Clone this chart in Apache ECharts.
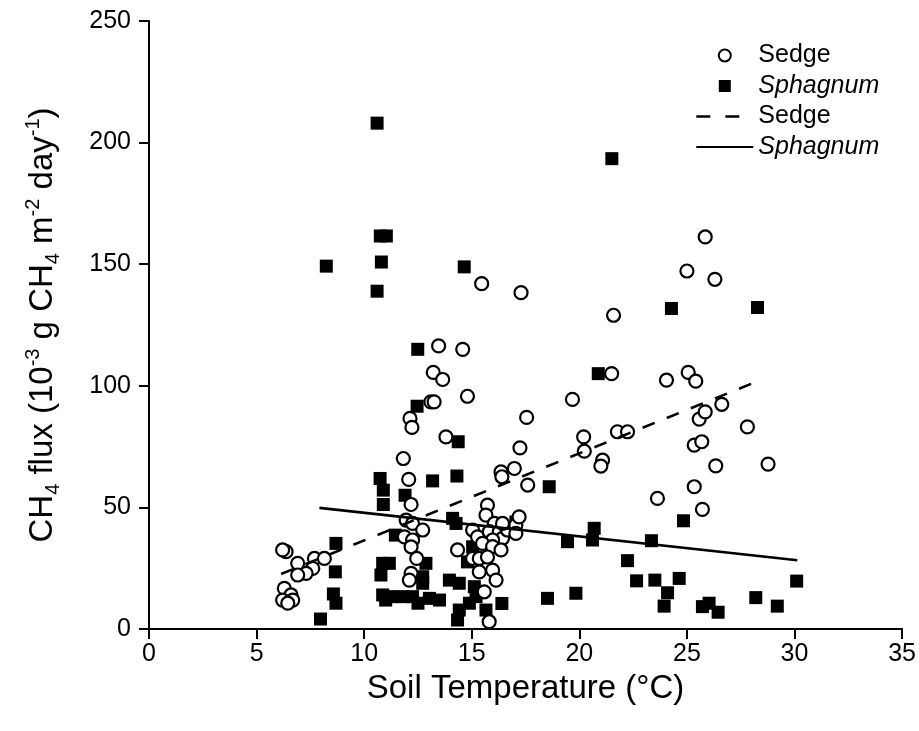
<!DOCTYPE html>
<html>
<head>
<meta charset="utf-8">
<script src="https://cdn.jsdelivr.net/npm/echarts@6/dist/echarts.min.js"></script>
<style>
html,body{margin:0;padding:0;background:#fff;}
#chart{width:919px;height:731px;}
</style>
</head>
<body>
<div id="chart"></div>
<script>
// Sedge observations: [soil temperature (°C), CH4 flux]
const sedgePoints = [
  [25.85,161.2],[25.0,147.2],[26.3,143.8],[15.46,142],[17.29,138.3],[21.59,129],
  [13.46,116.4],[14.58,115],[13.21,105.5],[13.65,102.6],[21.5,105],[24.05,102.3],
  [25.06,105.5],[25.41,101.9],[14.8,95.7],[13.1,93.4],[13.25,93.4],[19.68,94.4],
  [26.62,92.4],[25.57,86.3],[25.85,89.3],[12.13,86.6],[12.22,82.9],[17.55,87],
  [27.81,83.1],[13.8,79],[20.2,79],[20.23,73.1],[21.77,81.1],[22.24,81.1],
  [17.24,74.5],[21.08,69.4],[21.0,67],[25.34,75.6],[25.69,77],[26.34,67.1],
  [28.77,67.8],[16.98,66],[16.36,64.6],[16.4,62.6],[11.82,70.1],[12.07,61.5],
  [17.6,59.2],[25.34,58.5],[23.63,53.7],[25.72,49.2],[12.18,51.2],[11.95,44.8],
  [12.25,43.4],[12.72,40.7],[11.87,37.9],[12.25,36.6],[12.18,33.8],[6.37,31.8],
  [6.21,32.5],[6.91,27],[7.69,29],[8.15,29],[7.61,24.9],[7.3,22.9],[6.91,22.2],
  [6.29,16.7],[6.6,14],[6.21,11.9],[6.68,11.9],[6.45,10.6],[12.44,29],[12.18,22.9],
  [12.1,20.1],[15.73,50.9],[15.66,46.8],[16.05,43.4],[15.04,40.7],[15.27,37.9],
  [15.82,40],[16.28,40],[16.43,37.3],[15.97,36.6],[16.66,40.7],[15.5,35.2],
  [15.97,33.9],[16.36,32.5],[14.34,32.5],[15.04,29],[15.35,29],[15.73,29.6],
  [15.35,23.5],[15.97,24.2],[16.13,20.1],[15.58,15.3],[15.81,3],[17.05,42.7],
  [17.2,46.1],[17.05,39.3],[16.43,43.4]
];
// Sphagnum observations
const sphagnumPoints = [
  [10.6,208],[21.51,193.4],[10.75,161.6],[11.03,161.6],[10.8,150.9],[8.24,149.2],
  [14.65,148.9],[10.6,138.9],[24.28,131.8],[28.28,132.2],[12.49,115],[20.88,105],
  [12.46,91.6],[14.37,77],[14.31,62.9],[13.18,60.9],[10.74,61.9],[10.89,57.1],
  [10.89,51.2],[11.9,55],[18.6,58.5],[11.45,38.6],[8.69,35.2],[8.66,23.5],
  [8.57,14.4],[8.69,10.6],[7.97,4.1],[10.86,27],[11.17,27],[10.78,22.2],
  [12.87,27],[12.72,21.5],[12.72,18.8],[10.86,14],[11.0,11.9],[11.3,13.3],
  [11.8,13.3],[12.25,13.3],[12.5,10.6],[13.03,12.6],[13.5,11.9],[13.96,20.1],
  [14.42,18.8],[15.12,17.4],[15.2,13.3],[14.89,10.6],[14.42,7.8],[14.34,3.7],
  [15.66,7.8],[16.4,10.5],[14.11,45.5],[14.27,43.4],[15.04,33.8],[14.8,27.6],
  [17.05,44],[19.45,35.9],[20.69,41.4],[20.61,36.6],[23.35,36.3],[24.84,44.5],
  [22.24,28.1],[22.66,19.8],[23.51,20.1],[24.64,20.8],[24.1,14.9],[23.94,9.4],
  [18.52,12.6],[19.84,14.7],[25.72,9.2],[26.03,10.6],[26.45,6.9],[28.2,12.9],
  [29.2,9.4],[30.1,19.7]
];
// Regression line end points
const sedgeFit = [[6.14,22.6],[28.4,102.3]];
const sphagnumFit = [[7.92,49.8],[30.13,28.3]];
// Axis ticks
const xTicks = [0,5,10,15,20,25,30,35];
const yTicks = [0,50,100,150,200,250];

const FONT = '"Liberation Sans", Arial, sans-serif';
const chart = echarts.init(document.getElementById('chart'), null, {renderer:'canvas'});

const legendNames = {'Sedge':'Sedge','Sphagnum':'{i|Sphagnum}','Sedge fit':'Sedge','Sphagnum fit':'{i|Sphagnum}'};

chart.setOption({
  animation:false,
  backgroundColor:'#fff',
  grid:{left:149,right:16,top:21,bottom:102,containLabel:false},
  legend:{
    orient:'vertical', left:690, top:38, itemWidth:57, itemHeight:12, itemGap:5.5,
    symbolKeepAspect:true,
    textStyle:{fontFamily:FONT,fontSize:25,color:'#000',
      rich:{i:{fontFamily:FONT,fontSize:25,fontStyle:'italic',color:'#000'}}},
    formatter:function(n){return legendNames[n];},
    data:[
      {name:'Sedge',icon:'circle',itemStyle:{color:'#fff',borderColor:'#000',borderWidth:2}},
      {name:'Sphagnum',icon:'path://M0,0L10,0L10,10L0,10Z',itemStyle:{color:'#000'}},
      {name:'Sedge fit',itemStyle:{opacity:0},lineStyle:{color:'#000',width:2.6,type:[14,15]}},
      {name:'Sphagnum fit',itemStyle:{opacity:0}}
    ],
    selectedMode:false
  },
  xAxis:{
    type:'value', min:xTicks[0], max:xTicks[xTicks.length-1], interval:5,
    name:'Soil Temperature (°C)', nameLocation:'middle', nameGap:43,
    nameTextStyle:{fontFamily:FONT,fontSize:33,color:'#000'},
    axisLine:{show:true,onZero:false,lineStyle:{color:'#000',width:2}},
    axisTick:{show:true,inside:false,length:10,lineStyle:{color:'#000',width:2}},
    axisLabel:{fontFamily:FONT,fontSize:25,color:'#000',margin:13},
    splitLine:{show:false}
  },
  yAxis:{
    type:'value', min:yTicks[0], max:yTicks[yTicks.length-1], interval:50,
    name:'{n|CH}{sub|4}{n| flux (10}{sup|-3}{n| g CH}{sub|4}{n| m}{sup|-2}{n| day}{sup|-1}{n|)}',
    nameLocation:'middle', nameRotate:90, nameGap:86,
    nameTextStyle:{fontFamily:FONT,fontSize:33,color:'#000',
      rich:{
        n:{fontFamily:FONT,fontSize:33,color:'#000',lineHeight:40,verticalAlign:'middle'},
        sub:{fontFamily:FONT,fontSize:20,color:'#000',lineHeight:40,verticalAlign:'bottom'},
        sup:{fontFamily:FONT,fontSize:20,color:'#000',lineHeight:40,verticalAlign:'top'}
      }},
    axisLine:{show:true,onZero:false,lineStyle:{color:'#000',width:2}},
    axisTick:{show:true,inside:false,length:10,lineStyle:{color:'#000',width:2}},
    axisLabel:{fontFamily:FONT,fontSize:25,color:'#000',margin:18},
    splitLine:{show:false}
  },
  series:[
    {name:'Sphagnum',type:'scatter',symbol:'rect',symbolSize:13,data:sphagnumPoints,
      itemStyle:{color:'#000',opacity:1},z:2},
    {name:'Sedge',type:'scatter',symbol:'circle',symbolSize:13,data:sedgePoints,
      itemStyle:{color:'#fff',borderColor:'#000',borderWidth:2.2,opacity:1},z:3},
    {name:'Sedge fit',type:'line',data:sedgeFit,symbol:'none',
      lineStyle:{color:'#000',width:2.6,type:[13,13]},itemStyle:{color:'#000'},z:4},
    {name:'Sphagnum fit',type:'line',data:sphagnumFit,symbol:'none',
      lineStyle:{color:'#000',width:2.6,type:'solid'},itemStyle:{color:'#000'},z:4}
  ]
});
</script>
</body>
</html>
